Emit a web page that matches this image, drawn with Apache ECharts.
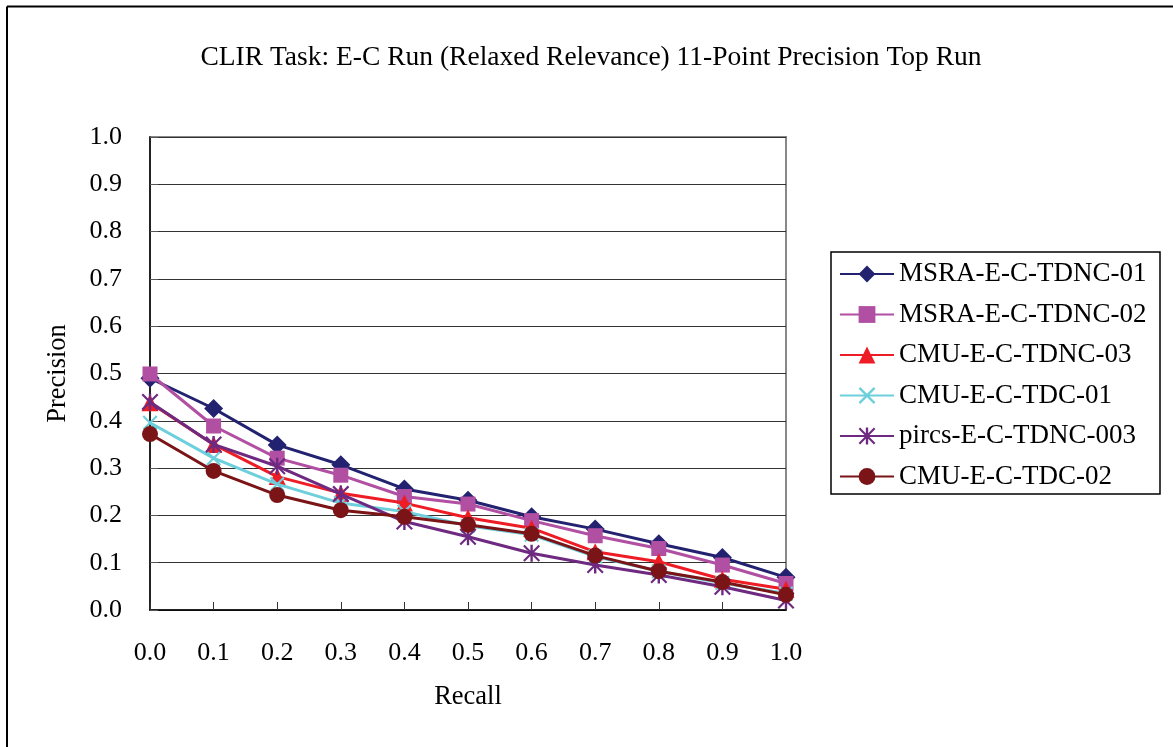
<!DOCTYPE html>
<html>
<head>
<meta charset="utf-8">
<script src="https://cdn.jsdelivr.net/npm/echarts@6/dist/echarts.min.js"></script>
<style>
html,body{margin:0;padding:0;background:#fff;}
#chart{width:1173px;height:747px;}
</style>
</head>
<body>
<div id="chart"></div>
<script>
var recall = ['0.0','0.1','0.2','0.3','0.4','0.5','0.6','0.7','0.8','0.9','1.0'];
var seriesNames = ['MSRA-E-C-TDNC-01','MSRA-E-C-TDNC-02','CMU-E-C-TDNC-03','CMU-E-C-TDC-01','pircs-E-C-TDNC-003','CMU-E-C-TDC-02'];
var msra01   = [0.490, 0.426, 0.349, 0.307, 0.256, 0.232, 0.197, 0.171, 0.140, 0.111, 0.069];
var msra02   = [0.499, 0.389, 0.321, 0.285, 0.240, 0.224, 0.189, 0.157, 0.130, 0.095, 0.056];
var cmu03    = [0.438, 0.350, 0.282, 0.247, 0.226, 0.195, 0.173, 0.123, 0.102, 0.065, 0.044];
var cmutdc01 = [0.396, 0.321, 0.266, 0.226, 0.208, 0.178, 0.159, 0.113, 0.082, 0.057, 0.035];
var pircs003 = [0.440, 0.350, 0.304, 0.245, 0.187, 0.155, 0.120, 0.095, 0.074, 0.049, 0.020];
var cmutdc02 = [0.372, 0.294, 0.243, 0.211, 0.197, 0.180, 0.161, 0.115, 0.082, 0.059, 0.032];

var FONT = "'Liberation Serif','Times New Roman',serif";
var crossPath = 'path://M0 10L10 0L100 90L90 100Z M90 0L100 10L10 100L0 90Z';
var starPath = 'path://M43 0L57 0L57 100L43 100Z M0 9L9 0L100 91L91 100Z M91 0L100 9L9 100L0 91Z';

var styles = [
  {data: msra01,   color: '#222270', symbol: 'diamond',  size: 19},
  {data: msra02,   color: '#B14FA3', symbol: 'rect',     size: 15},
  {data: cmu03,    color: '#EE1C24', symbol: 'triangle', size: 17},
  {data: cmutdc01, color: '#6CCFDB', symbol: crossPath,  size: 15},
  {data: pircs003, color: '#6E2A80', symbol: starPath,   size: 17},
  {data: cmutdc02, color: '#7B1416', symbol: 'circle',   size: 16}
];

var series = styles.map(function (s, i) {
  return {
    name: seriesNames[i],
    type: 'line',
    data: s.data,
    symbol: s.symbol,
    symbolSize: s.size,
    showAllSymbol: true,
    lineStyle: {color: s.color, width: 3},
    itemStyle: {color: s.color, borderWidth: 0},
    emphasis: {disabled: true},
    z: 3 + i
  };
});

var chart = echarts.init(document.getElementById('chart'));
chart.setOption({
  animation: false,
  backgroundColor: '#fff',
  title: {
    text: 'CLIR Task: E-C Run (Relaxed Relevance) 11-Point Precision Top Run',
    left: 586, top: 39, textAlign: 'center',
    textStyle: {fontFamily: FONT, fontSize: 27.5, fontWeight: 'normal', color: '#000'}
  },
  grid: {left: 150, right: 387, top: 137, bottom: 137, show: true, borderColor: '#888', borderWidth: 2, backgroundColor: 'transparent'},
  legend: {
    orient: 'vertical', left: 839, top: 260.5, itemGap: 13.5, itemWidth: 54, itemHeight: 21,
    padding: 0,
    textStyle: {fontFamily: FONT, fontSize: 27, color: '#000'},
    data: seriesNames
  },
  xAxis: {
    type: 'category', data: recall, boundaryGap: false,
    name: 'Recall', nameLocation: 'middle', nameGap: 74,
    nameTextStyle: {fontFamily: FONT, fontSize: 26.5, color: '#000'},
    axisLine: {lineStyle: {color: '#000', width: 1.5}},
    axisTick: {inside: true, length: 8, lineStyle: {color: '#333', width: 1}},
    axisLabel: {fontFamily: FONT, fontSize: 26, color: '#000', margin: 30, interval: 0},
    splitLine: {show: false}
  },
  yAxis: {
    type: 'value', min: 0, max: 1, interval: 0.1,
    name: 'Precision', nameLocation: 'middle', nameGap: 78,
    nameTextStyle: {fontFamily: FONT, fontSize: 26.5, color: '#000'},
    axisLine: {show: true, lineStyle: {color: '#000', width: 1.5}},
    axisTick: {show: true, inside: true, length: 8, lineStyle: {color: '#555'}},
    axisLabel: {fontFamily: FONT, fontSize: 26, color: '#000', margin: 28,
      formatter: function (v) { return v.toFixed(1); }},
    splitLine: {show: true, lineStyle: {color: '#333', width: 1.2}}
  },
  graphic: [
    {type: 'rect', shape: {x: 831, y: 252, width: 329, height: 242}, style: {fill: 'none', stroke: '#000', lineWidth: 1.5}, z: 10, silent: true},
    {type: 'line', shape: {x1: 7, y1: 6.5, x2: 1173, y2: 6.5}, style: {stroke: '#000', lineWidth: 2}, silent: true},
    {type: 'line', shape: {x1: 7, y1: 6.5, x2: 7, y2: 747}, style: {stroke: '#000', lineWidth: 2}, silent: true}
  ],
  series: series
});
</script>
</body>
</html>
